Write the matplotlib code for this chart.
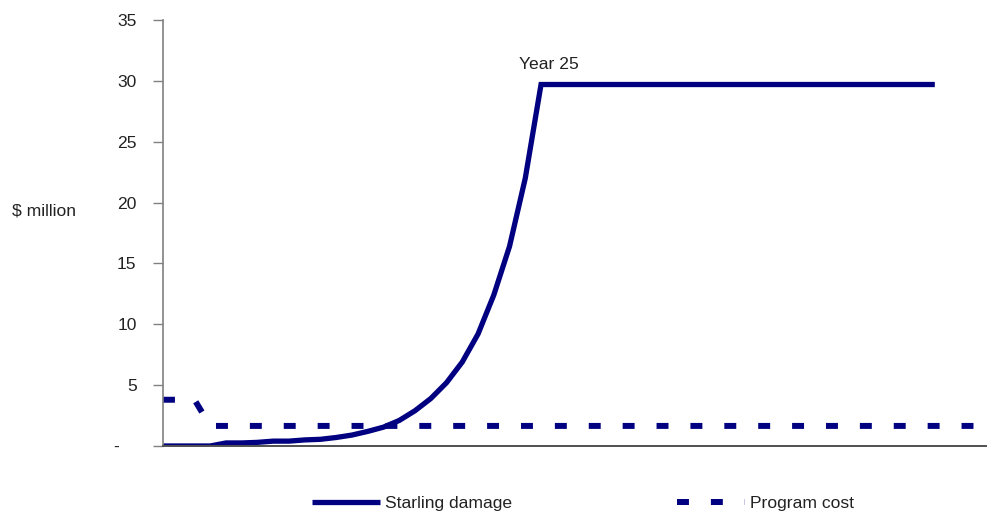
import matplotlib
matplotlib.use("Agg")
import matplotlib.pyplot as plt
from matplotlib.lines import Line2D

plt.rcParams['font.family'] = ['Liberation Sans', 'DejaVu Sans']
plt.rcParams['lines.scale_dashes'] = False

# Year index (year 1 at index 0)
years = list(range(1, 54))

# Starling damage, $ million (years 1-50)
starling_damage = [0, 0, 0, 0, 0.25, 0.25, 0.3, 0.4, 0.4, 0.5,
                   0.55, 0.7, 0.9, 1.2, 1.55, 2.1, 2.9, 3.9, 5.2, 6.9,
                   9.2, 12.4, 16.4, 22.0, 29.7] + [29.7] * 25

# Program cost, $ million (years 1-53)
program_cost = [3.8, 3.8, 3.8] + [1.65] * 50

yticks = [0, 5, 10, 15, 20, 25, 30, 35]
ytick_labels = ['-', '5', '10', '15', '20', '25', '30', '35']

navy = '#000080'
text_color = '#222222'
fs = 12.6

fig = plt.figure(figsize=(9.95, 5.15), dpi=100)
ax = fig.add_axes([163 / 995, (515 - 446) / 515, (986 - 163) / 995, (446 - 20) / 515])

x_d = [y - 1 for y in years[:len(starling_damage)]]
x_c = [y - 1 for y in years[:len(program_cost)]]

ax.plot(x_d, starling_damage, color=navy, lw=3.8, solid_joinstyle='miter',
        solid_capstyle='butt', label='Starling damage')
ax.plot(x_c, program_cost, color=navy, lw=4.3, dashes=(8.6, 15.8),
        dash_capstyle='butt', label='Program cost')

ax.set_xlim(0, x_c[-1] + 0.25)
ax.set_ylim(0, 35)
ax.set_yticks(yticks)
ax.set_yticklabels(ytick_labels)
ax.set_xticks([])

for side in ['top', 'right']:
    ax.spines[side].set_visible(False)
ax.spines['left'].set_color('#808080')
ax.spines['left'].set_linewidth(1.2)
ax.spines['bottom'].set_color('#505050')
ax.spines['bottom'].set_linewidth(1.4)
ax.tick_params(axis='y', direction='out', length=7, width=1, color='#808080',
               labelsize=fs, pad=12, labelcolor=text_color)

# accounting-style zero: the dash sits left of the number column
zero_label = ax.get_yticklabels()[0]
zero_label.set_x(-0.022)

ax.annotate('Year 25', xy=(24, 29.7), xytext=(6, 9), textcoords='offset points',
            ha='center', va='bottom', fontsize=fs, color=text_color)

fig.text(12 / 995, 1 - 211 / 515, '$ million', ha='left', va='center',
         fontsize=fs, color=text_color)

handles = [Line2D([], [], color=navy, lw=3.8, solid_capstyle='butt'),
           Line2D([], [], color=navy, lw=4.3, dashes=(8.6, 15.8), dash_capstyle='butt')]
fig.legend(handles, ['Starling damage', 'Program cost'], loc='center',
           bbox_to_anchor=(583 / 995, 1 - 503 / 515), ncol=2, frameon=False,
           fontsize=fs, handlelength=3.9, handletextpad=0.3, columnspacing=9.4,
           labelcolor=text_color)

fig.savefig('out.png', dpi=100)
